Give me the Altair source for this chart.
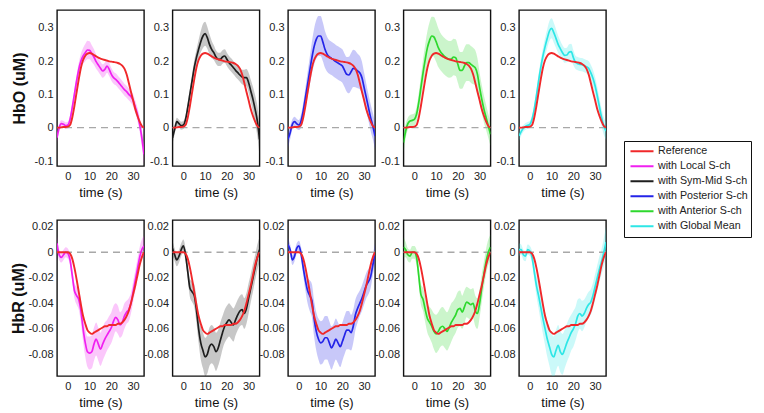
import altair as alt
import pandas as pd

# ---------------- data ----------------
T = list(range(-5, 36))

NAMES = ["Reference", "with Local S-ch", "with Sym-Mid S-ch",
         "with Posterior S-ch", "with Anterior S-ch", "with Global Mean"]
LINE_COLORS = ["#f0282a", "#f020f0", "#1e1e1e", "#2424e8", "#2ed82e", "#2ee6e6"]

REF_HBO = [0.000, 0.000, 0.001, 0.002, 0.002,
           0.003, 0.008, 0.030, 0.065, 0.105,
           0.145, 0.180, 0.203, 0.216, 0.222,
           0.224, 0.222, 0.218, 0.214, 0.210,
           0.207, 0.205, 0.203, 0.201, 0.199,
           0.198, 0.197, 0.196, 0.194, 0.191,
           0.186, 0.177, 0.160, 0.135, 0.108,
           0.082, 0.055, 0.035, 0.018, 0.005, 0.000]

REF_HBR = [0.000, 0.000, 0.000, 0.000, 0.000,
           0.000, -0.001, -0.005, -0.012, -0.021,
           -0.031, -0.041, -0.050, -0.056, -0.061,
           -0.063, -0.064, -0.063, -0.062, -0.061,
           -0.060, -0.059, -0.058, -0.058, -0.057,
           -0.057, -0.057, -0.057, -0.056, -0.056,
           -0.055, -0.053, -0.050, -0.046, -0.040,
           -0.033, -0.026, -0.018, -0.010, -0.004, 0.000]

LOCAL_HBO = [-0.030, 0.000, 0.012, 0.010, 0.006,
             0.008, 0.025, 0.060, 0.100, 0.140,
             0.175, 0.200, 0.215, 0.225, 0.233,
             0.232, 0.222, 0.212, 0.198, 0.188,
             0.178, 0.170, 0.175, 0.185, 0.175,
             0.160, 0.150, 0.145, 0.138, 0.130,
             0.122, 0.114, 0.108, 0.100, 0.093,
             0.082, 0.062, 0.040, 0.010, -0.030, -0.080]
SYMMID_HBO = [-0.030, -0.005, 0.018, 0.012, 0.006,
              0.008, 0.025, 0.060, 0.100, 0.140,
              0.180, 0.210, 0.235, 0.258, 0.275,
              0.282, 0.270, 0.250, 0.235, 0.225,
              0.212, 0.205, 0.205, 0.212, 0.215,
              0.205, 0.195, 0.188, 0.180, 0.172,
              0.165, 0.158, 0.152, 0.150, 0.150,
              0.135, 0.110, 0.085, 0.055, 0.020, -0.035]
POST_HBO = [-0.035, -0.015, 0.010, 0.018, 0.012,
            0.008, 0.020, 0.050, 0.090, 0.130,
            0.170, 0.210, 0.243, 0.265, 0.275,
            0.275, 0.258, 0.235, 0.220, 0.212,
            0.208, 0.203, 0.198, 0.194, 0.190,
            0.185, 0.172, 0.160, 0.158, 0.168,
            0.178, 0.176, 0.170, 0.165, 0.150,
            0.120, 0.090, 0.060, 0.030, 0.005, -0.025]
ANT_HBO = [-0.045, -0.010, 0.012, 0.020, 0.022,
           0.025, 0.040, 0.075, 0.120, 0.165,
           0.205, 0.240, 0.262, 0.275, 0.272,
           0.258, 0.240, 0.228, 0.220, 0.213,
           0.208, 0.205, 0.206, 0.212, 0.210,
           0.190, 0.172, 0.172, 0.185, 0.195,
           0.195, 0.190, 0.185, 0.180, 0.160,
           0.120, 0.085, 0.055, 0.030, 0.005, -0.020]
GLOBAL_HBO = [-0.025, -0.012, -0.002, 0.004, 0.007,
              0.010, 0.025, 0.055, 0.095, 0.140,
              0.180, 0.215, 0.243, 0.268, 0.290,
              0.298, 0.285, 0.268, 0.250, 0.237,
              0.225, 0.217, 0.218, 0.226, 0.228,
              0.210, 0.196, 0.192, 0.190, 0.189,
              0.186, 0.183, 0.178, 0.165, 0.148,
              0.125, 0.095, 0.062, 0.030, 0.005, -0.010]

LOCAL_HBO_HW = [0.015, 0.012, 0.010, 0.010, 0.010,
                0.010, 0.012, 0.014, 0.016, 0.018,
                0.020, 0.022, 0.024, 0.026, 0.028,
                0.027, 0.025, 0.023, 0.021, 0.020,
                0.020, 0.020, 0.020, 0.020, 0.020,
                0.019, 0.018, 0.018, 0.018, 0.018,
                0.018, 0.018, 0.018, 0.018, 0.018,
                0.018, 0.018, 0.020, 0.022, 0.026, 0.030]
SYMMID_HBO_HW = [0.020, 0.015, 0.012, 0.012, 0.012,
                 0.012, 0.014, 0.016, 0.018, 0.020,
                 0.022, 0.024, 0.028, 0.032, 0.036,
                 0.036, 0.033, 0.030, 0.026, 0.022,
                 0.020, 0.020, 0.020, 0.020, 0.020,
                 0.020, 0.020, 0.020, 0.020, 0.020,
                 0.020, 0.020, 0.022, 0.024, 0.026,
                 0.030, 0.034, 0.038, 0.042, 0.046, 0.050]
POST_HBO_HW = [0.025, 0.020, 0.015, 0.015, 0.015,
               0.015, 0.020, 0.025, 0.030, 0.036,
               0.042, 0.048, 0.054, 0.058, 0.060,
               0.060, 0.058, 0.055, 0.052, 0.050,
               0.050, 0.050, 0.050, 0.050, 0.050,
               0.050, 0.050, 0.052, 0.055, 0.056,
               0.056, 0.055, 0.052, 0.050, 0.048,
               0.045, 0.042, 0.040, 0.040, 0.040, 0.040]
ANT_HBO_HW = [0.030, 0.022, 0.018, 0.018, 0.018,
              0.018, 0.022, 0.028, 0.034, 0.040,
              0.046, 0.050, 0.055, 0.058, 0.060,
              0.060, 0.058, 0.056, 0.055, 0.055,
              0.055, 0.055, 0.055, 0.055, 0.055,
              0.055, 0.055, 0.055, 0.055, 0.055,
              0.055, 0.055, 0.055, 0.052, 0.048,
              0.045, 0.042, 0.040, 0.038, 0.036, 0.035]
GLOBAL_HBO_HW = [0.015, 0.012, 0.010, 0.010, 0.010,
                 0.010, 0.012, 0.014, 0.018, 0.020,
                 0.022, 0.024, 0.026, 0.028, 0.030,
                 0.030, 0.030, 0.028, 0.026, 0.024,
                 0.022, 0.022, 0.022, 0.024, 0.024,
                 0.022, 0.020, 0.020, 0.020, 0.020,
                 0.020, 0.020, 0.022, 0.024, 0.026,
                 0.026, 0.026, 0.026, 0.026, 0.026, 0.026]

LOCAL_HBR = [0.007, -0.002, -0.004, -0.002, 0.000,
             -0.001, -0.006, -0.018, -0.030, -0.034,
             -0.037, -0.046, -0.060, -0.071, -0.078,
             -0.079, -0.078, -0.072, -0.068, -0.072,
             -0.076, -0.072, -0.068, -0.065, -0.062,
             -0.059, -0.054, -0.051, -0.053, -0.057,
             -0.055, -0.050, -0.047, -0.045, -0.040,
             -0.031, -0.022, -0.013, -0.004, 0.002, 0.005]
SYMMID_HBR = [0.003, -0.002, -0.006, -0.003, 0.002,
              0.005, -0.002, -0.015, -0.028, -0.031,
              -0.034, -0.045, -0.060, -0.071, -0.077,
              -0.082, -0.080, -0.074, -0.072, -0.074,
              -0.078, -0.075, -0.069, -0.063, -0.058,
              -0.055, -0.053, -0.055, -0.057, -0.053,
              -0.049, -0.046, -0.045, -0.048, -0.044,
              -0.036, -0.028, -0.020, -0.012, -0.004, 0.002]
POST_HBR = [0.006, 0.002, -0.006, -0.003, 0.003,
            0.005, -0.001, -0.012, -0.022, -0.030,
            -0.034, -0.038, -0.052, -0.062, -0.068,
            -0.071, -0.070, -0.067, -0.067, -0.071,
            -0.075, -0.072, -0.068, -0.071, -0.074,
            -0.070, -0.065, -0.061, -0.061, -0.063,
            -0.058, -0.049, -0.044, -0.040, -0.036,
            -0.031, -0.026, -0.023, -0.019, -0.010, -0.001]
ANT_HBR = [0.004, 0.002, -0.002, -0.003, 0.000,
           0.000, -0.004, -0.018, -0.033, -0.037,
           -0.045, -0.052, -0.055, -0.058, -0.062,
           -0.064, -0.062, -0.059, -0.058, -0.060,
           -0.062, -0.059, -0.055, -0.052, -0.049,
           -0.045, -0.044, -0.047, -0.043, -0.039,
           -0.040, -0.041, -0.040, -0.046, -0.048,
           -0.040, -0.028, -0.017, -0.007, 0.000, 0.004]
GLOBAL_HBR = [0.002, 0.002, -0.002, -0.003, 0.002,
              0.001, -0.004, -0.015, -0.026, -0.034,
              -0.043, -0.052, -0.060, -0.068, -0.074,
              -0.080, -0.082, -0.077, -0.073, -0.078,
              -0.080, -0.076, -0.071, -0.067, -0.063,
              -0.060, -0.056, -0.050, -0.048, -0.050,
              -0.048, -0.044, -0.041, -0.039, -0.034,
              -0.027, -0.020, -0.013, -0.007, 0.000, 0.008]

LOCAL_HBR_HW = [0.006, 0.004, 0.004, 0.004, 0.004,
                0.004, 0.004, 0.005, 0.006, 0.007,
                0.008, 0.009, 0.010, 0.011, 0.012,
                0.013, 0.013, 0.013, 0.013, 0.013,
                0.013, 0.013, 0.013, 0.012, 0.012,
                0.012, 0.012, 0.011, 0.011, 0.010,
                0.010, 0.010, 0.009, 0.009, 0.008,
                0.008, 0.008, 0.008, 0.008, 0.008, 0.008]
SYMMID_HBR_HW = [0.006, 0.005, 0.005, 0.005, 0.005,
                 0.005, 0.005, 0.006, 0.007, 0.008,
                 0.009, 0.010, 0.011, 0.013, 0.014,
                 0.015, 0.015, 0.015, 0.015, 0.015,
                 0.015, 0.014, 0.014, 0.013, 0.013,
                 0.013, 0.013, 0.013, 0.013, 0.012,
                 0.012, 0.012, 0.012, 0.012, 0.012,
                 0.012, 0.011, 0.011, 0.010, 0.010, 0.010]
POST_HBR_HW = [0.005, 0.004, 0.004, 0.004, 0.004,
               0.004, 0.005, 0.006, 0.008, 0.010,
               0.012, 0.013, 0.014, 0.015, 0.016,
               0.017, 0.017, 0.017, 0.017, 0.017,
               0.017, 0.016, 0.016, 0.016, 0.016,
               0.015, 0.015, 0.015, 0.015, 0.014,
               0.013, 0.012, 0.011, 0.010, 0.010,
               0.010, 0.010, 0.010, 0.009, 0.008, 0.008]
ANT_HBR_HW = [0.008, 0.006, 0.005, 0.005, 0.005,
              0.005, 0.006, 0.007, 0.008, 0.009,
              0.010, 0.011, 0.012, 0.013, 0.014,
              0.015, 0.015, 0.015, 0.015, 0.015,
              0.015, 0.015, 0.015, 0.014, 0.014,
              0.014, 0.014, 0.013, 0.013, 0.012,
              0.012, 0.012, 0.012, 0.012, 0.012,
              0.011, 0.011, 0.010, 0.010, 0.010, 0.010]
GLOBAL_HBR_HW = [0.005, 0.004, 0.004, 0.004, 0.004,
                 0.004, 0.005, 0.006, 0.008, 0.010,
                 0.011, 0.012, 0.013, 0.014, 0.015,
                 0.016, 0.016, 0.016, 0.016, 0.016,
                 0.016, 0.015, 0.015, 0.015, 0.014,
                 0.014, 0.013, 0.013, 0.012, 0.012,
                 0.011, 0.010, 0.010, 0.010, 0.010,
                 0.010, 0.010, 0.010, 0.010, 0.011, 0.012]

HBO_SERIES = [LOCAL_HBO, SYMMID_HBO, POST_HBO, ANT_HBO, GLOBAL_HBO]
HBO_HW = [LOCAL_HBO_HW, SYMMID_HBO_HW, POST_HBO_HW, ANT_HBO_HW, GLOBAL_HBO_HW]
HBR_SERIES = [LOCAL_HBR, SYMMID_HBR, POST_HBR, ANT_HBR, GLOBAL_HBR]
HBR_HW = [LOCAL_HBR_HW, SYMMID_HBR_HW, POST_HBR_HW, ANT_HBR_HW, GLOBAL_HBR_HW]

X_DOMAIN = [-5, 35]
X_TICKS = [0, 10, 20, 30]
HBO_DOMAIN = [-0.115, 0.353]
HBO_TICKS = [-0.1, 0, 0.1, 0.2, 0.3]
HBR_DOMAIN = [-0.097, 0.0253]
HBR_TICKS = [-0.08, -0.06, -0.04, -0.02, 0, 0.02]

# ---------------- chart ----------------
FONT = "Liberation Sans"
LABEL_EXPR = "(datum.value < 0 ? '-' : '') + format(abs(datum.value), '.2~f')"

color_scale = alt.Scale(domain=NAMES, range=LINE_COLORS)
legend = alt.Legend(title=None, orient="none", legendX=567, legendY=131,
                    strokeColor="#111111", padding=3, symbolOffset=2,
                    symbolType="stroke",
                    symbolSize=530, symbolStrokeWidth=2, labelFontSize=10.7,
                    labelFont=FONT, labelColor="#222222", clipHeight=14.6,
                    rowPadding=0, labelOffset=3)


def panel(k, mean, hw, ref, ydomain, yticks, ytitle, tpad, show_ytitle):
    name = NAMES[k + 1]
    df = pd.DataFrame({
        "t": T,
        "mean": mean,
        "lo": [m - h for m, h in zip(mean, hw)],
        "hi": [m + h for m, h in zip(mean, hw)],
        "name": name,
    })
    rdf = pd.DataFrame({"t": T, "ref": ref, "name": "Reference"})
    zdf = pd.DataFrame({"z": [0]})

    xscale = alt.Scale(domain=X_DOMAIN, nice=False, zero=False)
    yscale = alt.Scale(domain=ydomain, nice=False, zero=False)
    xaxis = alt.Axis(values=X_TICKS, title="time (s)", labelPadding=4,
                     titlePadding=5, titleFontSize=13, titleFontWeight="normal")
    if show_ytitle:
        yaxis = alt.Axis(values=yticks, title=ytitle, labelExpr=LABEL_EXPR,
                         labelPadding=4, titlePadding=tpad, titleFontSize=16,
                         titleFontWeight="bold")
    else:
        yaxis = alt.Axis(values=yticks, title=None, labelExpr=LABEL_EXPR,
                         labelPadding=4)

    X = alt.X("t:Q", scale=xscale, axis=xaxis)
    band = alt.Chart(df).mark_area(
        color=LINE_COLORS[k + 1], opacity=0.25, interpolate="monotone", clip=True
    ).encode(
        x=X,
        y=alt.Y("lo:Q", scale=yscale, axis=yaxis),
        y2="hi:Q",
    )
    zero = alt.Chart(zdf).mark_rule(
        color="#a8a8a8", strokeDash=[7, 5], strokeWidth=1.3
    ).encode(y=alt.Y("z:Q", scale=yscale, axis=yaxis))
    line = alt.Chart(df).mark_line(
        strokeWidth=1.7, interpolate="monotone", clip=True
    ).encode(
        x=X,
        y=alt.Y("mean:Q", scale=yscale, axis=yaxis),
        color=alt.Color("name:N", scale=color_scale, legend=legend),
    )
    refl = alt.Chart(rdf).mark_line(
        strokeWidth=1.9, interpolate="monotone", clip=True
    ).encode(
        x=X,
        y=alt.Y("ref:Q", scale=yscale, axis=yaxis),
        color=alt.Color("name:N", scale=color_scale, legend=legend),
    )
    return alt.layer(band, zero, line, refl).properties(width=87, height=156)


panels = []
for k in range(5):
    panels.append(panel(k, HBO_SERIES[k], HBO_HW[k], REF_HBO, HBO_DOMAIN,
                        HBO_TICKS, "HbO (uM)", 7, k == 0))
for k in range(5):
    panels.append(panel(k, HBR_SERIES[k], HBR_HW[k], REF_HBR, HBR_DOMAIN,
                        HBR_TICKS, "HbR (uM)", 1, k == 0))

chart = alt.concat(
    *panels, columns=5, spacing={"row": 54, "column": 28.5}, bounds="flush"
).resolve_scale(color="shared").properties(
    padding={"left": 2, "top": 1, "right": 0, "bottom": 2},
    background="white",
).configure_view(
    stroke="#111111", strokeWidth=1.4
).configure_axis(
    domain=False, ticks=False, grid=False,
    labelFont=FONT, labelFontSize=11, labelColor="#222222",
    titleFont=FONT, titleColor="#111111",
)

chart.save("out.html", embed_options={"renderer": "svg", "actions": False})
